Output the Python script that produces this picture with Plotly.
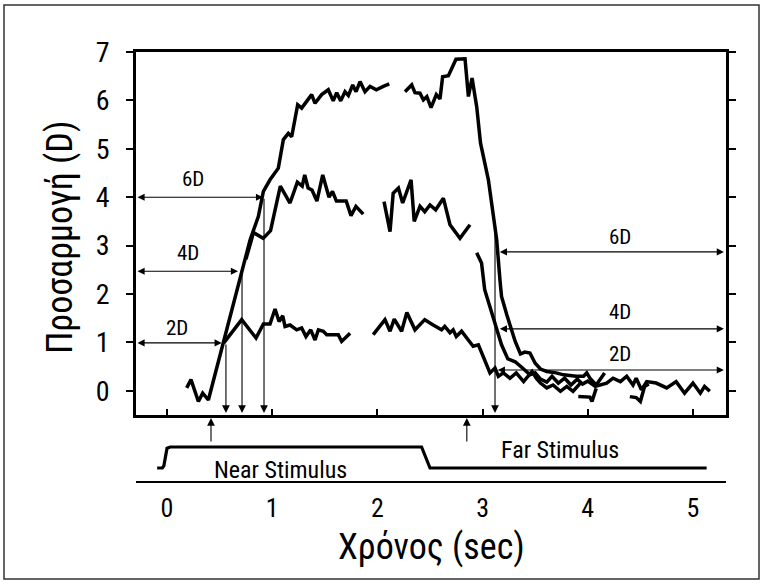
import plotly.graph_objects as go

# ---------------- data ----------------
t6_seg1 = [0.187, 0.228, 0.298, 0.339, 0.393, 0.535, 0.71, 0.79, 0.868, 0.916, 0.979, 1.058,
           1.106, 1.153, 1.185, 1.242, 1.28, 1.328, 1.375, 1.407, 1.47, 1.533, 1.58, 1.613,
           1.651, 1.692, 1.724, 1.765, 1.797, 1.835, 1.882, 1.93, 1.99, 2.056, 2.113]
v6_seg1 = [0.06, 0.23, -0.22, -0.05, -0.19, 0.99, 2.5, 3.12, 3.6, 4.12, 4.36, 4.60,
           5.19, 5.32, 5.25, 5.91, 5.84, 5.98, 6.12, 5.94, 6.12, 6.22, 5.99, 6.16,
           5.99, 6.18, 6.10, 6.32, 6.18, 6.39, 6.18, 6.29, 6.22, 6.29, 6.34]
t6_seg2 = [2.262, 2.326, 2.357, 2.405, 2.437, 2.47, 2.51, 2.56, 2.595, 2.62, 2.675, 2.747,
           2.833, 2.865, 2.90, 2.944, 2.98, 3.055, 3.108, 3.134, 3.165, 3.18, 3.23, 3.31,
           3.36, 3.40, 3.45, 3.50, 3.55, 3.61, 3.70, 3.77, 3.89, 3.96, 3.99, 4.02, 4.08,
           4.13, 4.16]
v6_seg2 = [6.18, 6.32, 6.16, 6.15, 6.01, 6.08, 5.85, 6.12, 6.03, 6.49, 6.51, 6.85,
           6.86, 6.08, 6.46, 5.87, 5.12, 4.36, 3.53, 3.12, 2.29, 1.95, 1.57, 1.02,
           0.76, 0.80, 0.78, 0.57, 0.45, 0.40, 0.37, 0.33, 0.30, 0.30, 0.37, 0.26, 0.12,
           0.26, 0.37]

t4_seg1 = [0.75, 0.77, 0.80, 0.821, 0.914, 0.984, 1.077, 1.169, 1.239, 1.285, 1.309, 1.341,
           1.378, 1.425, 1.48, 1.54, 1.573, 1.61, 1.703, 1.749, 1.796, 1.865]
v4_seg1 = [2.72, 2.9, 3.1, 3.27, 3.15, 3.31, 4.23, 3.88, 4.31, 4.23, 4.46, 4.19,
           4.15, 3.92, 4.46, 4.0, 4.12, 3.92, 3.92, 3.62, 3.81, 3.65]
t4_seg2 = [2.063, 2.12, 2.15, 2.2, 2.24, 2.32, 2.35, 2.405, 2.45, 2.50, 2.554, 2.627,
           2.69, 2.785, 2.88]
v4_seg2 = [3.91, 3.29, 4.08, 4.19, 3.88, 4.36, 3.50, 3.81, 3.70, 3.84, 3.74, 3.98,
           3.43, 3.15, 3.43]
t4_seg3 = [2.944, 2.99, 3.02, 3.07, 3.134, 3.18, 3.24, 3.31, 3.39, 3.45, 3.50, 3.55,
           3.61, 3.66, 3.72, 3.78, 3.84, 3.90, 3.95, 4.0, 4.07, 4.12, 4.18, 4.24, 4.31,
           4.37, 4.43, 4.46, 4.51, 4.56, 4.65, 4.75, 4.84, 4.92, 5.0, 5.07, 5.11, 5.16]
v4_seg3 = [2.85, 2.64, 2.09, 1.74, 1.26, 0.95, 0.66, 0.60, 0.45, 0.33, 0.37, 0.24,
           0.18, 0.30, 0.16, 0.26, 0.12, 0.24, 0.14, 0.20, 0.09, 0.12, 0.16, 0.26, 0.19,
           0.30, 0.12, 0.26, 0.02, 0.19, 0.16, 0.06, 0.19, -0.05, 0.16, -0.05, 0.09, -0.01]

t2_seg1 = [0.54, 0.71, 0.846, 0.916, 0.979, 1.027, 1.065, 1.10, 1.122, 1.169, 1.233, 1.28,
           1.321, 1.366, 1.407, 1.439, 1.486, 1.518, 1.628, 1.66, 1.74]
v2_seg1 = [0.99, 1.47, 1.09, 1.38, 1.38, 1.69, 1.43, 1.55, 1.33, 1.36, 1.26, 1.30,
           1.12, 1.26, 1.05, 1.26, 1.23, 1.16, 1.16, 1.02, 1.19]
t2_seg2 = [1.96, 2.072, 2.12, 2.16, 2.23, 2.28, 2.357, 2.45, 2.53, 2.61, 2.64, 2.69,
           2.72, 2.75, 2.80, 2.91, 2.96, 3.07, 3.118, 3.15, 3.197, 3.26, 3.32, 3.39,
           3.47, 3.51, 3.55, 3.61, 3.67, 3.74, 3.80, 3.86, 3.93]
v2_seg2 = [1.16, 1.47, 1.23, 1.48, 1.23, 1.62, 1.26, 1.47, 1.36, 1.26, 1.33, 1.20,
           1.26, 1.12, 1.23, 0.92, 0.95, 0.37, 0.47, 0.30, 0.37, 0.26, 0.37, 0.19,
           0.40, 0.26, 0.16, 0.06, 0.12, -0.01, 0.09, -0.01, 0.16]
t2_seg3 = [3.91, 3.96, 4.02, 4.04, 4.08]
v2_seg3 = [-0.12, -0.12, -0.13, -0.22, 0.05]
t2_seg4 = [4.40, 4.46, 4.50, 4.54, 4.58]
v2_seg4 = [-0.12, -0.14, -0.22, 0.09, 0.14]

# stimulus trace (0 = far, 1 = near)
stim_t = [-0.094, -0.045, -0.03, 0.0, 0.03, 2.42, 2.50, 5.13]
stim_v = [0, 0, 0.1, 0.94, 1, 1, 0, 0]

# latency / level markers
onset_t = [0.418, 2.85]
drop_t = [0.56, 0.713, 0.922, 3.118]
drop_v = [0.99, 2.47, 4.0, 3.3]
left_lbl = ["6D", "4D", "2D"]
left_lvl = [4.0, 2.47, 0.99]
left_end = [0.913, 0.675, 0.52]
left_lbl_t = [0.247, 0.20, 0.095]
left_lbl_v = [4.38, 2.85, 1.30]
right_lbl = ["6D", "4D", "2D"]
right_lvl = [2.87, 1.28, 0.43]
right_start = [3.15, 3.15, 3.13]
right_lbl_t = [4.31, 4.31, 4.31]
right_lbl_v = [3.18, 1.63, 0.76]

x_ticks = [0, 1, 2, 3, 4, 5]
y_ticks = [0, 1, 2, 3, 4, 5, 6, 7]
x_range = [-0.295, 5.314]
y_range = [-0.5, 7.0]

# ---------------- figure ----------------
W, H = 765, 584
FONT = "Roboto Condensed, Liberation Sans Narrow, DejaVu Sans Condensed, Arial Narrow, sans-serif"


def join(*segs):
    xs, ys = [], []
    for i in range(0, len(segs), 2):
        if xs:
            xs.append(None)
            ys.append(None)
        xs += segs[i]
        ys += segs[i + 1]
    return xs, ys


fig = go.Figure()
line = dict(color="black", width=3.5)
for segs in [(t6_seg1, v6_seg1, t6_seg2, v6_seg2),
             (t4_seg1, v4_seg1, t4_seg2, v4_seg2, t4_seg3, v4_seg3),
             (t2_seg1, v2_seg1, t2_seg2, v2_seg2, t2_seg3, v2_seg3, t2_seg4, v2_seg4)]:
    xs, ys = join(*segs)
    fig.add_trace(go.Scatter(x=xs, y=ys, mode="lines", line=line, connectgaps=False,
                             xaxis="x2", yaxis="y", showlegend=False, hoverinfo="skip"))

fig.add_trace(go.Scatter(x=stim_t, y=stim_v, mode="lines", line=dict(color="black", width=3.2),
                         xaxis="x", yaxis="y2", showlegend=False, hoverinfo="skip"))

ann = []
arrow = dict(showarrow=True, arrowcolor="black", arrowwidth=1.1, standoff=0, startstandoff=0, text="")
for t, v in zip(drop_t, drop_v):
    ann.append(dict(x=t, y=-0.46, ax=t, ay=v, xref="x2", yref="y", axref="x2", ayref="y",
                    arrowhead=2, arrowsize=1.4, **arrow))
for lbl, lvl, end, lt, lv in zip(left_lbl, left_lvl, left_end, left_lbl_t, left_lbl_v):
    ann.append(dict(x=end, y=lvl, ax=x_range[0], ay=lvl, xref="x2", yref="y", axref="x2", ayref="y",
                    arrowhead=2, arrowsize=1.3, arrowside="end+start", startarrowhead=2,
                    startarrowsize=1.3, **arrow))
    ann.append(dict(x=lt, y=lv, xref="x2", yref="y", text=lbl, showarrow=False,
                    xanchor="center", yanchor="middle",
                    font=dict(size=21, color="black", family=FONT)))
for lbl, lvl, st, lt, lv in zip(right_lbl, right_lvl, right_start, right_lbl_t, right_lbl_v):
    ann.append(dict(x=x_range[1] - 0.02, y=lvl, ax=st, ay=lvl, xref="x2", yref="y", axref="x2", ayref="y",
                    arrowhead=2, arrowsize=1.3, arrowside="end+start", startarrowhead=2,
                    startarrowsize=1.3, **arrow))
    ann.append(dict(x=lt, y=lv, xref="x2", yref="y", text=lbl, showarrow=False,
                    xanchor="center", yanchor="middle",
                    font=dict(size=21, color="black", family=FONT)))
for t in onset_t:
    ann.append(dict(x=t, y=1 - 418 / H, ax=0, ay=25, xref="x2", yref="paper",
                    arrowhead=2, arrowsize=1.4, **arrow))

ann.append(dict(x=1.08, y=-0.1, xref="x", yref="y2", text="Near Stimulus", showarrow=False,
                xanchor="center", yanchor="middle",
                font=dict(size=24, color="black", family=FONT)))
ann.append(dict(x=3.74, y=0.85, xref="x", yref="y2", text="Far Stimulus", showarrow=False,
                xanchor="center", yanchor="middle",
                font=dict(size=24, color="black", family=FONT)))
ann.append(dict(x=431 / W, y=1 - 547 / H, xref="paper", yref="paper", text="Χρόνος (sec)",
                xanchor="center", yanchor="middle",
                showarrow=False, font=dict(size=36, color="black", family=FONT)))
ann.append(dict(x=60 / W, y=1 - 238 / H, xref="paper", yref="paper", text="Προσαρμογή (D)",
                xanchor="center", yanchor="middle",
                textangle=-90, showarrow=False, font=dict(size=36, color="black", family=FONT)))

fig.update_layout(
    width=W, height=H,
    margin=dict(l=0, r=0, t=0, b=0, pad=0, autoexpand=False),
    paper_bgcolor="white", plot_bgcolor="white",
    showlegend=False,
    font=dict(family=FONT, color="black"),
    xaxis=dict(domain=[136 / W, 726 / W], range=x_range, anchor="y2", automargin=False,
               showline=True, linecolor="black", linewidth=2.2,
               ticks="", tickvals=x_ticks, showgrid=False, zeroline=False,
               tickfont=dict(size=26, color="black", family=FONT), ticklabelstandoff=3,
               fixedrange=True),
    xaxis2=dict(domain=[136 / W, 726 / W], range=x_range, anchor="y", overlaying="x",
                automargin=False,
                showline=True, mirror=True, linecolor="black", linewidth=2.5,
                ticks="inside", ticklen=6, tickwidth=2, tickcolor="black", tickvals=x_ticks,
                showticklabels=False, showgrid=False, zeroline=False),
    yaxis=dict(domain=[1 - 415 / H, 1 - 52 / H], range=y_range, anchor="x2", automargin=False,
               showline=True, mirror="allticks", linecolor="black", linewidth=2.5,
               ticks="outside", ticklen=7, tickwidth=2, tickcolor="black", tickvals=y_ticks,
               tickfont=dict(size=28, color="black", family=FONT), ticklabelstandoff=11,
               showgrid=False, zeroline=False),
    yaxis2=dict(domain=[1 - 481 / H, 1 - 415 / H], range=[-0.619, 2.524], anchor="x",
                automargin=False, visible=False),
    annotations=ann,
    shapes=[dict(type="rect", xref="paper", yref="paper", x0=4 / W, x1=759 / W,
                 y0=1 - 579 / H, y1=1 - 5 / H, line=dict(color="#333", width=1.5))],
)

fig.write_html("out.html")
